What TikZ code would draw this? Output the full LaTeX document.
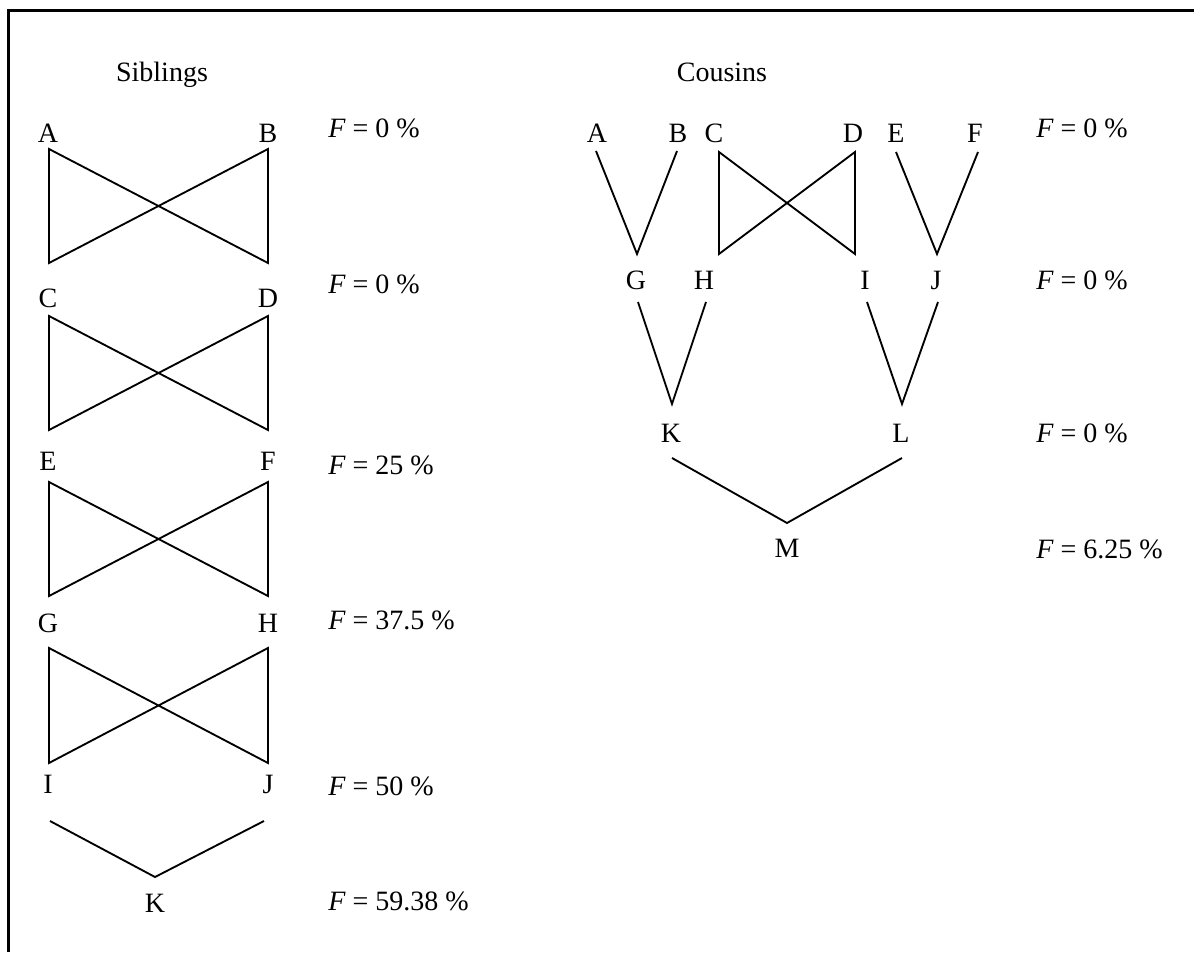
\documentclass[tikz,border=0pt]{standalone}
\usepackage{fontspec}
\setmainfont{Liberation Serif}
\begin{document}
\begin{tikzpicture}[x=0.75pt,y=-0.75pt,
  lbl/.style={anchor=base, inner sep=0pt, font=\fontsize{21}{25}\selectfont},
  flbl/.style={lbl, anchor=base west},
  link/.style={line width=1.4pt, line join=miter, line cap=butt},
  frame/.style={line width=2.4pt}]
\useasboundingbox (0,0) rectangle (1194,952);
% outer frame (only the top and left edges fall inside the page)
\draw[frame] (8.8,952) -- (8.8,10.5) -- (1194,10.5);

% ---------------- Siblings ----------------
\node[lbl] (sibtitle) at (162,82) {Siblings};
\node[lbl] (sA) at (48,143) {A};
\node[lbl] (sB) at (268,143) {B};
\node[lbl] (sC) at (48,307) {C};
\node[lbl] (sD) at (268,307) {D};
\node[lbl] (sE) at (48,470) {E};
\node[lbl] (sF) at (268,470) {F};
\node[lbl] (sG) at (48,632) {G};
\node[lbl] (sH) at (268,632) {H};
\node[lbl] (sI) at (48,793) {I};
\node[lbl] (sJ) at (268,793) {J};
\node[lbl] (sK) at (155,912) {K};

\node[flbl] (sf1) at (328,138) {\textit{F} = 0 \%};
\node[flbl] (sf2) at (328,293) {\textit{F} = 0 \%};
\node[flbl] (sf3) at (328,474) {\textit{F} = 25 \%};
\node[flbl] (sf4) at (328,629) {\textit{F} = 37.5 \%};
\node[flbl] (sf5) at (328,795) {\textit{F} = 50 \%};
\node[flbl] (sf6) at (328,910) {\textit{F} = 59.38 \%};

% crossed generations
\foreach \i/\top/\bot in {1/149/263, 2/316/430, 3/482/596, 4/648/763}{
  \coordinate (b\i tl) at (49,\top);
  \coordinate (b\i tr) at (268,\top);
  \coordinate (b\i bl) at (49,\bot);
  \coordinate (b\i br) at (268,\bot);
  \draw[link] (b\i tl) -- (b\i bl) -- (b\i tr) -- (b\i br) -- cycle;
}
\coordinate (sIend) at (50,821);
\coordinate (sJend) at (264,821);
\coordinate (sKtop) at (155,877);
\draw[link] (sIend) -- (sKtop) -- (sJend);

% ---------------- Cousins ----------------
\node[lbl] (coutitle) at (722,82) {Cousins};
\node[lbl] (cA) at (597,143) {A};
\node[lbl] (cB) at (678,143) {B};
\node[lbl] (cC) at (714,143) {C};
\node[lbl] (cD) at (853,143) {D};
\node[lbl] (cE) at (896,143) {E};
\node[lbl] (cF) at (975,143) {F};
\node[lbl] (cG) at (636,289) {G};
\node[lbl] (cH) at (704,289) {H};
\node[lbl] (cI) at (865,289) {I};
\node[lbl] (cJ) at (936,289) {J};
\node[lbl] (cK) at (671,442) {K};
\node[lbl] (cL) at (901,442) {L};
\node[lbl] (cM) at (787,557) {M};

\node[flbl] (cf1) at (1036,138) {\textit{F} = 0 \%};
\node[flbl] (cf2) at (1036,289) {\textit{F} = 0 \%};
\node[flbl] (cf3) at (1036,442) {\textit{F} = 0 \%};
\node[flbl] (cf4) at (1036,558) {\textit{F} = 6.25 \%};

% A, B -> G
\coordinate (cAend) at (596,151);
\coordinate (cBend) at (677,151);
\coordinate (cGtop) at (637,254);
\draw[link] (cAend) -- (cGtop) -- (cBend);
% C, D -> H, I
\coordinate (cCend) at (719,152);
\coordinate (cDend) at (855,152);
\coordinate (cHtop) at (719,254);
\coordinate (cItop) at (855,254);
\draw[link] (cCend) -- (cHtop) -- (cDend) -- (cItop) -- cycle;
% E, F -> J
\coordinate (cEend) at (896,152);
\coordinate (cFend) at (978,152);
\coordinate (cJtop) at (937,254);
\draw[link] (cEend) -- (cJtop) -- (cFend);
% G, H -> K
\coordinate (cGend) at (638,302);
\coordinate (cHend) at (706,302);
\coordinate (cKtop) at (672,404);
\draw[link] (cGend) -- (cKtop) -- (cHend);
% I, J -> L
\coordinate (cIend) at (867,302);
\coordinate (cJend) at (938,302);
\coordinate (cLtop) at (902,404);
\draw[link] (cIend) -- (cLtop) -- (cJend);
% K, L -> M
\coordinate (cKend) at (672,458);
\coordinate (cLend) at (902,458);
\coordinate (cMtop) at (787,523);
\draw[link] (cKend) -- (cMtop) -- (cLend);
\end{tikzpicture}
\end{document}
